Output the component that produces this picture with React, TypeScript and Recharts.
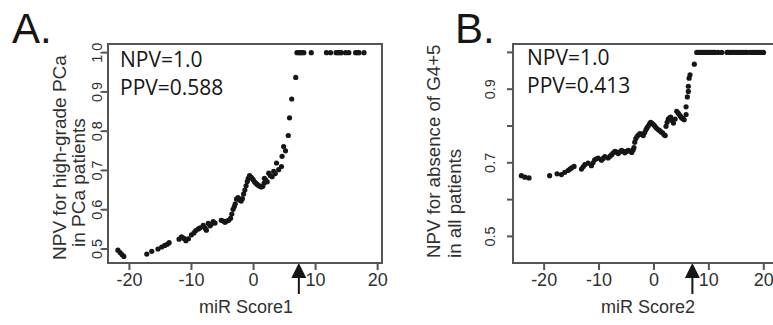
import { ReferenceDot, Scatter, ScatterChart, XAxis, YAxis } from 'recharts'

// panel A: miR Score1 vs NPV for high-grade PCa
const scoreA = [
  -21.85, -21.5, -21.2, -20.9, -17.2, -16.4, -15.4, -14.8, -14.3, -13.9, -13.6, -12.0, -11.6, -11.2,
  -10.9, -10.5, -10.0, -9.6, -9.3, -8.9, -8.6, -8.1, -7.8, -7.6, -7.3, -7.0, -6.8, -6.5, -6.2, -5.2,
  -4.9, -4.6, -4.3, -4.0, -3.7, -3.5, -3.3, -3.1, -2.95, -2.75, -2.5, -2.25, -2.0, -1.8, -1.6, -1.4,
  -1.2, -1.0, -0.85, -0.65, -0.45, -0.25, -0.05, 0.15, 0.35, 0.55, 0.75, 1.0, 1.25, 1.5, 1.7, 1.75,
  1.95, 2.2, 2.45, 2.7, 3.0, 3.25, 3.5, 3.7, 4.05, 4.5, 4.6, 4.85, 5.15, 5.6, 5.8, 6.15, 6.8, 7.0,
  7.3, 7.55, 7.8, 8.1, 9.3, 11.75, 12.4, 13.3, 13.6, 13.9, 14.15, 14.85, 15.35, 16.45, 16.75, 17.0,
  17.8,
]
const npvA = [
  0.497, 0.491, 0.486, 0.481, 0.487, 0.494, 0.5, 0.505, 0.509, 0.512, 0.516, 0.525, 0.531, 0.527,
  0.521, 0.526, 0.536, 0.541, 0.547, 0.551, 0.554, 0.56, 0.553, 0.548, 0.565, 0.559, 0.563, 0.57,
  0.566, 0.573, 0.571, 0.568, 0.571, 0.573, 0.578, 0.589, 0.601, 0.608, 0.615, 0.627, 0.631, 0.625,
  0.622, 0.628, 0.64, 0.65, 0.661, 0.672, 0.68, 0.687, 0.684, 0.68, 0.676, 0.671, 0.668, 0.665,
  0.662, 0.66, 0.658, 0.66, 0.668, 0.68, 0.676, 0.671, 0.693, 0.687, 0.684, 0.698, 0.692, 0.719,
  0.702, 0.71, 0.736, 0.761, 0.75, 0.789, 0.834, 0.882, 0.937, 1.0, 1.0, 1.0, 1.0, 1.0, 1.0, 1.0,
  1.0, 1.0, 1.0, 1.0, 1.0, 1.0, 1.0, 1.0, 1.0, 1.0, 1.0,
]

// panel B: miR Score2 vs NPV for absence of G4+5
const scoreB = [
  -24.15, -23.5, -22.75, -19.0, -17.65, -16.85, -16.25, -15.65, -15.3, -15.0, -14.55, -13.2, -12.9,
  -12.6, -12.0, -11.4, -11.1, -10.8, -10.45, -10.15, -9.55, -9.25, -8.95, -8.35, -8.0, -7.7, -7.4,
  -7.1, -6.8, -6.5, -6.2, -5.9, -5.6, -5.3, -5.0, -4.7, -4.4, -4.05, -3.8, -3.65, -3.5, -3.3, -3.05,
  -2.8, -2.55, -2.25, -1.95, -1.7, -1.45, -1.25, -1.05, -0.8, -0.6, -0.35, -0.1, 0.15, 0.4, 0.7, 1.0,
  1.3, 1.6, 1.85, 2.05, 2.2, 2.4, 2.6, 2.85, 3.05, 3.3, 3.55, 3.85, 4.15, 4.4, 4.6, 4.85, 5.05, 5.3,
  5.5, 5.85, 5.85, 6.08, 6.26, 6.26, 6.4, 6.57, 7.35, 7.8, 8.1, 8.4, 8.7, 9.0, 9.3, 9.6, 9.9, 10.2,
  10.5, 10.8, 11.1, 11.7, 12.35, 13.3, 13.6, 13.95, 14.3, 14.6, 15.0, 15.4, 15.8, 16.2, 16.6, 16.9,
  17.5, 17.9, 18.3, 18.7, 19.1, 19.5, 19.95, 20.85,
]
const npvB = [
  0.665, 0.661, 0.659, 0.665, 0.67, 0.668, 0.674, 0.679, 0.683, 0.686, 0.69, 0.683, 0.689, 0.695,
  0.699, 0.692, 0.7, 0.708, 0.711, 0.713, 0.707, 0.712, 0.717, 0.713, 0.718, 0.722, 0.727, 0.731,
  0.729, 0.725, 0.73, 0.734, 0.731, 0.727, 0.731, 0.734, 0.732, 0.728, 0.735, 0.741, 0.756, 0.766,
  0.772, 0.776, 0.779, 0.777, 0.774, 0.782, 0.79, 0.795, 0.8, 0.806, 0.81, 0.807, 0.804, 0.8, 0.795,
  0.791, 0.788, 0.784, 0.781, 0.776, 0.774, 0.799, 0.81, 0.819, 0.822, 0.824, 0.815, 0.808, 0.819,
  0.84, 0.835, 0.831, 0.826, 0.822, 0.82, 0.817, 0.831, 0.852, 0.879, 0.894, 0.908, 0.93, 0.939,
  0.968, 1.0, 1.0, 1.0, 1.0, 1.0, 1.0, 1.0, 1.0, 1.0, 1.0, 1.0, 1.0, 1.0, 1.0, 1.0, 1.0, 1.0, 1.0,
  1.0, 1.0, 1.0, 1.0, 1.0, 1.0, 1.0, 1.0, 1.0, 1.0, 1.0, 1.0, 1.0, 1.0,
]

const xTicks = [-20, -10, 0, 10, 20]
const yTicks = [0.5, 0.6, 0.7, 0.8, 0.9, 1.0]
const yLabelsA = [0.5, 0.6, 0.7, 0.8, 0.9, 1.0]
const yLabelsB = [0.5, 0.7, 0.9]
const cutoffA = 7.3
const cutoffB = 7.0

const SANS = '"Liberation Sans", Arial, sans-serif'
const INK = '#161616'
const GREY = '#303030'
const FRAME = '#555'
const LW = 2
const PLOT_TOP = 44
const X_AXIS_H = 62
const H = 325

const Dot = (p: any) => <circle cx={p.cx} cy={p.cy} r={2.6} fill={INK} />

const Arrow = (p: any) => (
  <g>
    <path d={`M${p.cx},${p.cy} L${p.cx - 7.5},${p.cy + 15} L${p.cx + 7.5},${p.cy + 15} Z`} fill={INK} />
    <rect x={p.cx - 1} y={p.cy + 14} width={2} height={17} fill={INK} />
  </g>
)

// tick marks are thin filled rects drawn with the label
const xTick = (p: any) => (
  <g>
    <rect x={p.x - LW / 2} y={p.y - 8} width={LW} height={7} fill={FRAME} />
    <text x={p.x} y={p.y + 15} textAnchor="middle" fontSize={18} fontFamily={SANS} fill={GREY}>
      {p.payload.value}
    </text>
  </g>
)

const yTick = (labelled: number[], dx: number) => (p: any) => {
  const v = p.payload.value
  const show = labelled.some((l) => Math.abs(l - v) < 1e-6)
  const x = p.x + dx
  return (
    <g>
      <rect x={p.x + 2} y={p.y - LW / 2} width={6} height={LW} fill={FRAME} />
      {show ? (
        <text x={x} y={p.y} transform={`rotate(-90 ${x} ${p.y})`} textAnchor="middle" fontSize={14.5} fontFamily={SANS} fill={GREY}>
          {v.toFixed(1)}
        </text>
      ) : null}
    </g>
  )
}

interface PanelProps {
  left: number
  width: number
  axisWidth: number
  marginRight: number
  scores: number[]
  npv: number[]
  xDomain: [number, number]
  yDomain: [number, number]
  labelled: number[]
  tickDx: number
  cutoff: number
  letter: string
  letterX: number
  stats: string[]
  statsX: number
  statsY: number[]
  titleLines: string[]
  titleX: number[]
  titleY: number[]
  titleSize: number
  xTitle: string
  xTitleX: number
}

function Panel(props: PanelProps) {
  const data = props.scores.map((s, i) => ({ score: s, npv: props.npv[i] }))
  const x0 = props.axisWidth
  const x1 = props.width - props.marginRight
  const yb = H - X_AXIS_H

  // all static texts of the panel
  const decor = () => (
    <g>
      <text x={props.letterX} y={43} fontSize={42} fontFamily={SANS} fill={INK}>
        {props.letter}
      </text>
      {props.stats.map((s, i) => (
        <text key={s} x={props.statsX} y={props.statsY[i]} fontSize={21} fontFamily='"Open Sans", sans-serif' fill={INK}>
          {s}
        </text>
      ))}
      {props.titleLines.map((t, i) => (
        <text
          key={t}
          x={props.titleX[i]}
          y={props.titleY[i]}
          transform={`rotate(-90 ${props.titleX[i]} ${props.titleY[i]})`}
          fontSize={props.titleSize}
          fontFamily={SANS}
          fill={GREY}
        >
          {t}
        </text>
      ))}
      <text x={props.xTitleX} y={313} textAnchor="middle" fontSize={18} fontFamily={SANS} fill={GREY}>
        {props.xTitle}
      </text>
    </g>
  )

  return (
    <div style={{ position: 'absolute', left: props.left, top: 0, width: props.width, height: H }}>
      <ScatterChart width={props.width} height={H} margin={{ top: PLOT_TOP, right: props.marginRight, bottom: 0, left: 0 }}>
        <XAxis
          type="number"
          dataKey="score"
          domain={props.xDomain}
          ticks={xTicks}
          allowDataOverflow
          height={X_AXIS_H}
          axisLine={false}
          tickLine={false}
          tick={xTick}
          label={decor}
        />
        <YAxis
          type="number"
          dataKey="npv"
          domain={props.yDomain}
          ticks={yTicks}
          allowDataOverflow
          width={props.axisWidth}
          axisLine={false}
          tickLine={false}
          tick={yTick(props.labelled, props.tickDx)}
        />
        <Scatter data={data} isAnimationActive={false} shape={Dot} />
        <ReferenceDot x={props.cutoff} y={props.yDomain[0]} shape={Arrow} ifOverflow="visible" />
      </ScatterChart>
      {/* box round the plotting region */}
      <div
        style={{
          position: 'absolute',
          left: x0 - LW / 2,
          top: PLOT_TOP - LW / 2,
          width: x1 - x0 + LW,
          height: yb - PLOT_TOP + LW,
          border: `${LW}px solid ${FRAME}`,
          boxSizing: 'border-box',
          pointerEvents: 'none',
        }}
      />
    </div>
  )
}

export default function App() {
  return (
    <div style={{ position: 'fixed', left: 0, top: 0, width: 773, height: H, overflow: 'hidden', background: '#fff' }}>
      <Panel
        left={0}
        width={390}
        axisWidth={108}
        marginRight={8}
        scores={scoreA}
        npv={npvA}
        xDomain={[-23.45, 20.7]}
        yDomain={[0.4643, 1.022]}
        labelled={yLabelsA}
        tickDx={2}
        cutoff={cutoffA}
        letter="A."
        letterX={12}
        stats={['NPV=1.0', 'PPV=0.588']}
        statsX={120}
        statsY={[67, 95]}
        titleLines={['NPV for high-grade PCa', 'in PCa patients']}
        titleX={[66, 85]}
        titleY={[260, 247]}
        titleSize={19}
        xTitle="miR Score1"
        xTitleX={246}
      />
      <Panel
        left={383}
        width={410}
        axisWidth={130}
        marginRight={10}
        scores={scoreB}
        npv={npvB}
        xDomain={[-25.67, 23.5]}
        yDomain={[0.4277, 1.0228]}
        labelled={yLabelsB}
        tickDx={-10}
        cutoff={cutoffB}
        letter="B."
        letterX={72}
        stats={['NPV=1.0', 'PPV=0.413']}
        statsX={144}
        statsY={[65, 93]}
        titleLines={['NPV for absence of G4+5', 'in all patients']}
        titleX={[57, 78]}
        titleY={[258, 258]}
        titleSize={18.7}
        xTitle="miR Score2"
        xTitleX={265}
      />
    </div>
  )
}
